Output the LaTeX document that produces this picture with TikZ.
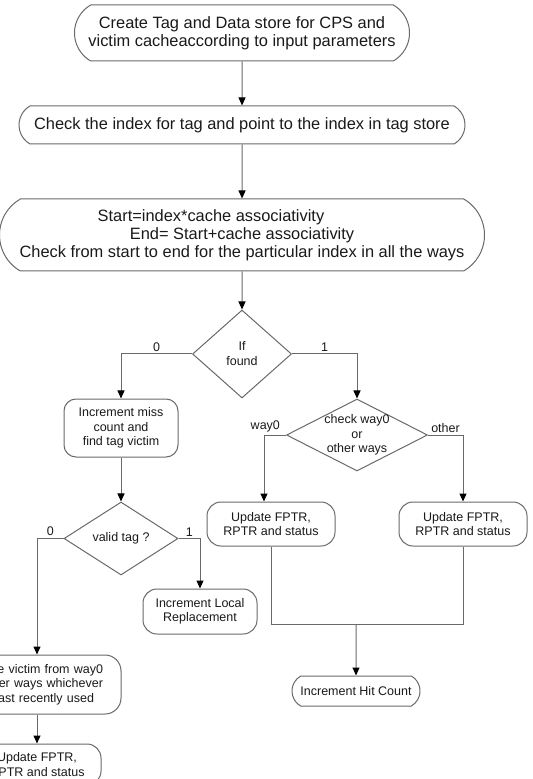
\documentclass[tikz,border=0pt]{standalone}
\usepackage{fontspec}
\setmainfont{Liberation Sans}
\usetikzlibrary{
  shapes.geometric,
  shapes.misc,
  arrows.meta,
  positioning
}
\definecolor{linegray}{RGB}{105,105,105}
\definecolor{darktext}{RGB}{25,25,25}

\begin{document}
\begin{tikzpicture}[
    x=0.5pt, y=-0.5pt,
    >={Triangle[length=4pt, width=3.5pt, color=black]},
    bigfont/.style={font=\fontsize{8.2}{9}\selectfont},
    smallfont/.style={font=\fontsize{6.25}{7.25}\selectfont},
    pill/.style={draw=linegray, line width=0.5pt, rounded rectangle, rounded rectangle arc length=120, align=center, text=darktext, inner xsep=0pt, inner ysep=1pt},
    roundbox/.style={draw=linegray, line width=0.5pt, rounded corners=#1, align=center, text=darktext, inner sep=1pt, smallfont},
    roundbox/.default=7pt,
    decision/.style={draw=linegray, line width=0.5pt, diamond, inner sep=-1pt, align=center, text=darktext, smallfont},
    flow/.style={->, draw=linegray, line width=0.5pt},
    joinline/.style={draw=linegray, line width=0.5pt},
    branch/.style={smallfont, text=darktext, inner sep=1pt},
]
\useasboundingbox (0,0) rectangle (532,779);

% === Setup and index lookup ===
\node[pill, bigfont, minimum width=167.5pt, minimum height=28pt] (create) at (242,33) {Create Tag and Data store for CPS and\\victim cacheaccording to input parameters};
\node[pill, bigfont, minimum width=223pt, minimum height=19pt, below=22pt of create] (index) {Check the index for tag and point to the index in tag store};
\node[pill, bigfont, minimum width=232.5pt, minimum height=36pt, inner xsep=-5pt, below=27pt of index] (range) {Start=index*cache associativity\hspace*{31pt}\\End= Start+cache associativity\\Check from start to end for the particular index in all the ways};

% === Hit / miss decision ===
\node[decision, minimum width=49.5pt, minimum height=44pt, below=19pt of range, font=\fontsize{6.25}{7.5}\selectfont] (found) {If\\found};
\node[roundbox=6pt, minimum width=57pt, minimum height=29pt, below=0pt of found, xshift=-60.5pt] (miss) {Increment miss\\count and\\find tag victim};
\node[decision, aspect=2, minimum width=70.5pt, minimum height=36pt, below=0pt of found, xshift=57.5pt] (way) {check way0\\or\\other ways};

% === Miss path ===
\node[decision, minimum width=57pt, minimum height=36.5pt, below=22pt of miss] (valid) {valid tag ?};
\node[roundbox, minimum width=57pt, minimum height=22.5pt, below=6.5pt of valid, xshift=39.5pt] (local) {Increment Local\\Replacement};
\node[roundbox=8pt, minimum width=84pt, minimum height=29.5pt, text width=66pt, inner xsep=9pt, align=right, below=39.5pt of valid, xshift=-42pt] (victim) {e victim from way0\\er ways whichever\\ast recently used\hspace*{4.5pt}};
\node[roundbox, minimum width=64pt, minimum height=20.5pt, below=14.5pt of victim] (upd0) {Update FPTR,\\RPTR and status};

% === Hit path ===
\node[roundbox, minimum width=64pt, minimum height=22pt, below=15pt of way, xshift=-43pt] (updway0) {Update FPTR,\\RPTR and status};
\node[roundbox, minimum width=64pt, minimum height=22pt, below=15pt of way, xshift=53pt] (updother) {Update FPTR,\\RPTR and status};
\node[pill, smallfont, minimum width=64pt, minimum height=15pt, below=102pt of way, xshift=-0.5pt] (hit) {Increment Hit Count};
\coordinate[above=25.5pt of hit] (hitjoin);

% === Connections ===
\draw[flow] (create) -- (index);
\draw[flow] (index) -- (range);
\draw[flow] (range) -- (found);
\draw[flow] (found.west) -| node[branch, above, pos=0.25] {0} (miss.north);
\draw[flow] (found.east) -| node[branch, above, pos=0.25] {1} (way.north);
\draw[flow] (miss) -- (valid);
\draw[flow] (valid.west) -| node[branch, above, pos=0.25] {0} (victim.north);
\draw[flow] (valid.east) -| node[branch, above, pos=0.25] {1} (local.north);
\draw[flow] (victim) -- (upd0);
\draw[flow] (way.west) -| node[branch, above, pos=0.47] {way0} ([xshift=-3.5pt]updway0.north);
\draw[flow] (way.east) -| node[branch, above, pos=0.25] {other} (updother.north);
\draw[joinline] (updway0.south) |- (hitjoin) -| (updother.south);
\draw[flow] (hitjoin) -- (hit);

\end{tikzpicture}
\end{document}
